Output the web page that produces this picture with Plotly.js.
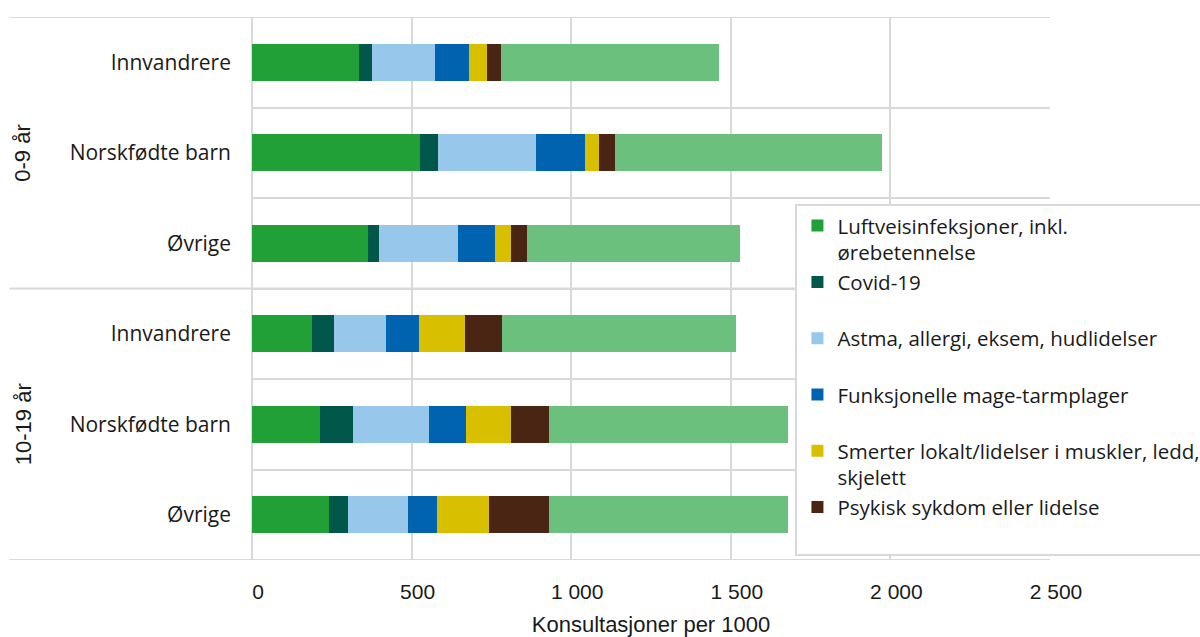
<!DOCTYPE html>
<html>
<head>
<meta charset="utf-8">
<script src="https://cdn.plot.ly/plotly-3.0.1.min.js"></script>
<style>html,body{margin:0;padding:0;background:#fff;}#chart{width:1200px;height:637px;}</style>
</head>
<body>
<div id="chart"></div>
<script>
// Data
const groups = ["0-9 år","0-9 år","0-9 år","10-19 år","10-19 år","10-19 år"];
const labels = ["Innvandrere","Norskfødte barn","Øvrige","Innvandrere","Norskfødte barn","Øvrige"];
const groupNames = ["0-9 år","10-19 år"];

const luftveis = [336, 525, 363, 189, 212, 242];
const covid    = [40, 57, 36, 67, 103, 59];
const astma    = [197, 308, 247, 163, 240, 187];
const funksj   = [108, 154, 115, 103, 115, 91];
const smerter  = [54, 42, 51, 145, 142, 164];
const psykisk  = [44, 51, 49, 116, 118, 187];
const andre    = [684, 837, 669, 733, 748, 748];

const seriesNames = [
  "Luftveisinfeksjoner, inkl.<br>ørebetennelse",
  "Covid-19<br>\u00a0",
  "Astma, allergi, eksem, hudlidelser<br>\u00a0",
  "Funksjonelle mage-tarmplager<br>\u00a0",
  "Smerter lokalt/lidelser i muskler, ledd,<br>skjelett",
  "Psykisk sykdom eller lidelse<br>\u00a0",
  "Andre"
];
const seriesValues = [luftveis, covid, astma, funksj, smerter, psykisk, andre];
const seriesColors = ["#21a038","#00574a","#97c8ec","#0063af","#d8bf00","#4a2514","#6bc07d"];
const showInLegend = [true,true,true,true,true,true,false];

const keys = groups.map((g,i) => g + " | " + labels[i]);

const traces = seriesValues.map((vals, k) => ({
  type: "bar",
  orientation: "h",
  name: seriesNames[k],
  x: vals,
  y: keys,
  marker: {color: seriesColors[k], line: {width: 0}},
  showlegend: showInLegend[k],
  hoverinfo: "x+name"
}));

const grid = "#d9d9d9";
const lineShape = (yy) => ({
  type: "line", xref: "paper", yref: "y",
  x0: -0.304, x1: 1, y0: yy, y1: yy,
  line: {color: grid, width: 2}, layer: "below"
});

const layout = {
  width: 1200, height: 637,
  margin: {l: 252, r: 150, t: 17, b: 77, autoexpand: false},
  paper_bgcolor: "#fff", plot_bgcolor: "#fff",
  barmode: "stack",
  bargap: 0.59,
  font: {family: "Open Sans", color: "#1a1a1a"},
  xaxis: {
    range: [0, 2500],
    tickvals: [0, 500, 1000, 1500, 2000, 2500],
    ticktext: ["0", "500", "1 000", "1 500", "2 000", "2 500"],
    showgrid: true, gridcolor: grid, gridwidth: 2,
    zeroline: true, zerolinecolor: grid, zerolinewidth: 2,
    showline: false, ticks: "",
    tickfont: {family: "Liberation Sans", size: 21, color: "#1a1a1a"},
    ticklabelstandoff: 17,
    ticklabelshift: 6,
    automargin: true,
    title: {text: "Konsultasjoner per 1000", font: {family: "Liberation Sans", size: 22, color: "#1a1a1a"}, standoff: 18},
    fixedrange: true
  },
  yaxis: {
    type: "category",
    categoryorder: "array",
    categoryarray: keys,
    range: [5.5, -0.5],
    tickmode: "array",
    tickvals: keys,
    ticktext: labels,
    tickson: "boundaries",
    showgrid: true, gridcolor: grid, gridwidth: 2,
    zeroline: false, showline: false, ticks: "",
    tickfont: {family: "Open Sans", size: 21, color: "#1a1a1a"},
    ticklabelstandoff: 20,
    automargin: false,
    fixedrange: true
  },
  shapes: [lineShape(-0.5), lineShape(2.5), lineShape(5.5)],
  annotations: [
    {text: groupNames[0], xref: "paper", yref: "paper", x: -0.287, y: 0.75, textangle: -90, showarrow: false,
     font: {family: "Liberation Sans", size: 22, color: "#1a1a1a"}, xanchor: "center", yanchor: "middle"},
    {text: groupNames[1], xref: "paper", yref: "paper", x: -0.287, y: 0.25, textangle: -90, showarrow: false,
     font: {family: "Liberation Sans", size: 22, color: "#1a1a1a"}, xanchor: "center", yanchor: "middle"}
  ],
  legend: {
    x: 0.681, y: 0.656, xanchor: "left", yanchor: "top",
    bgcolor: "#fff", bordercolor: grid, borderwidth: 2,
    font: {family: "Open Sans", size: 20.5, color: "#1a1a1a"},
    traceorder: "normal",
    valign: "top",
    itemwidth: 30,
    tracegroupgap: 0
  }
};

Plotly.newPlot("chart", traces, layout, {displayModeBar: false, staticPlot: true});
</script>
</body>
</html>
